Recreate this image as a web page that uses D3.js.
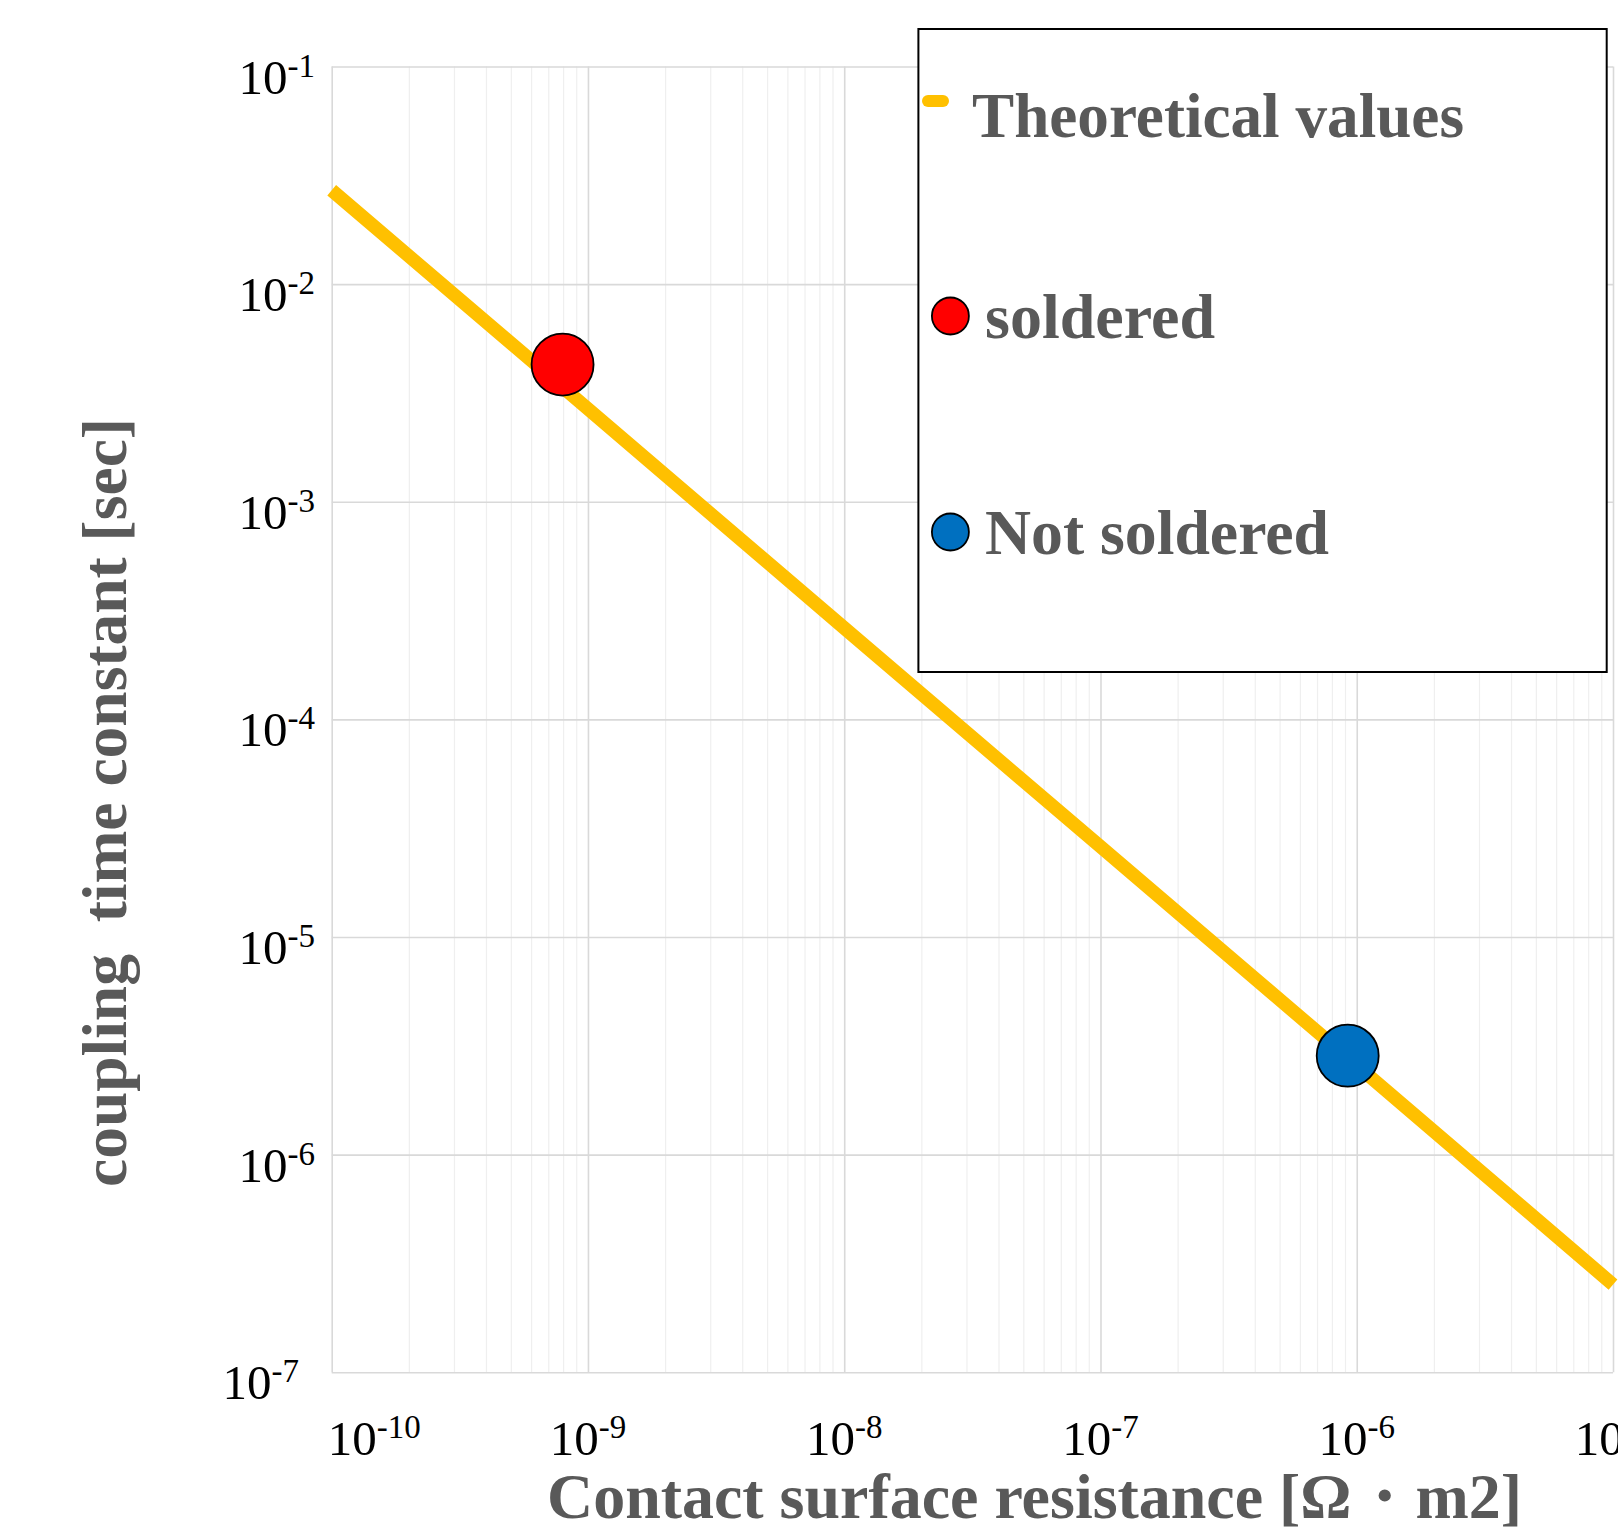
<!DOCTYPE html>
<html>
<head>
<meta charset="utf-8">
<title>coupling time constant</title>
<script src="https://d3js.org/d3.v7.min.js"></script>
<style>
  body { margin: 0; background: #fff; }
  text { font-family: "Liberation Serif", "Times New Roman", serif; }
</style>
</head>
<body>
<script>
// ---- data ----
var xTicks = [1e-10, 1e-9, 1e-8, 1e-7, 1e-6, 1e-5]
var yTicks = [1e-7, 1e-6, 1e-5, 1e-4, 1e-3, 1e-2, 1e-1]
var xTickExp = ["-10", "-9", "-8", "-7", "-6", "-5"]
var yTickExp = ["-7", "-6", "-5", "-4", "-3", "-2", "-1"]

// theoretical line (straight on log-log)
var theoryR = [1e-10, 1e-9, 1e-8, 1e-7, 1e-6, 1e-5]
var theoryTau = [2.7e-2, 2.67e-3, 2.63e-4, 2.6e-5, 2.57e-6, 2.53e-7]

// measured points
var pointNames = ["soldered", "Not soldered"]
var pointR = [7.96e-10, 9.22e-7]
var pointTau = [4.27e-3, 2.85e-6]
var pointColors = ["#ff0000", "#0070c0"]

var legendNames = ["Theoretical values", "soldered", "Not soldered"]

var W = 1618, H = 1527
// plot area (note: "top" is reserved on window, so use m* names)
var mLeft = 331.7, mRight = 1613, mTop = 66.5, mBottom = 1372.3
var textGrey = "#595959"

var svg = d3.select("body").append("svg")
  .attr("width", W)
  .attr("height", H)

svg.append("rect").attr("width", W).attr("height", H).attr("fill", "#fff")

var x = d3.scaleLog().domain([1e-10, 1e-5]).range([mLeft, mRight])
var y = d3.scaleLog().domain([1e-7, 1e-1]).range([mBottom, mTop])

// minor vertical gridlines
var minor = x.ticks().filter(function(d) {
  return xTicks.indexOf(d) < 0
})
svg.append("g")
  .attr("transform", "translate(0," + mBottom + ")")
  .call(d3.axisBottom(x).tickValues(minor).tickSize(-(mBottom - mTop)).tickFormat(""))
  .call(function(g) {
    g.select(".domain").remove()
    g.selectAll("line").attr("stroke", "#efefef").attr("stroke-width", 1.2)
  })

// major gridlines
svg.append("g")
  .attr("transform", "translate(0," + mBottom + ")")
  .call(d3.axisBottom(x).tickValues(xTicks).tickSize(-(mBottom - mTop)).tickFormat(""))
  .call(function(g) {
    g.select(".domain").remove()
    g.selectAll("line").attr("stroke", "#d9d9d9").attr("stroke-width", 1.6)
  })
svg.append("g")
  .attr("transform", "translate(" + mLeft + ",0)")
  .call(d3.axisLeft(y).tickValues(yTicks).tickSize(-(mRight - mLeft)).tickFormat(""))
  .call(function(g) {
    g.select(".domain").remove()
    g.selectAll("line").attr("stroke", "#d9d9d9").attr("stroke-width", 1.6)
  })

// tick labels 10^n
function powLabel(sel, anchor) {
  sel.attr("text-anchor", anchor)
    .attr("font-size", 49)
    .attr("fill", "#000")
  sel.append("tspan").text("10")
  sel.append("tspan").attr("font-size", 33).attr("dy", -17).text(function(d) { return d.exp })
}

var xl = svg.append("g").selectAll("text")
  .data(xTicks.map(function(d, i) { return {v: d, exp: xTickExp[i]} }))
  .join("text")
  .attr("x", function(d, i) { return i == 0 ? mLeft - 4 : x(d.v) })
  .attr("y", 1455)
xl.each(function(d, i) {
  powLabel(d3.select(this), i == 0 ? "start" : "middle")
})

var yl = svg.append("g").selectAll("text")
  .data(yTicks.map(function(d, i) { return {v: d, exp: yTickExp[i]} }))
  .join("text")
  .attr("x", function(d, i) { return i == 0 ? 299 : 315 })
  .attr("y", function(d) { return y(d.v) + 27 })
yl.each(function() { powLabel(d3.select(this), "end") })

// theoretical line
var line = d3.line()
  .x(function(d) { return x(d[0]) })
  .y(function(d) { return y(d[1]) })
svg.append("path")
  .datum(d3.zip(theoryR, theoryTau))
  .attr("d", line)
  .attr("fill", "none")
  .attr("stroke", "#ffc000")
  .attr("stroke-width", 13.5)

// measured points
svg.append("g").selectAll("circle")
  .data(d3.range(pointR.length))
  .join("circle")
  .attr("cx", function(i) { return x(pointR[i]) })
  .attr("cy", function(i) { return y(pointTau[i]) })
  .attr("r", 31)
  .attr("fill", function(i) { return pointColors[i] })
  .attr("stroke", "#000")
  .attr("stroke-width", 1.8)

// axis titles
svg.append("text")
  .attr("x", 547).attr("y", 1518)
  .attr("font-size", 64).attr("font-weight", "bold").attr("fill", textGrey)
  .attr("textLength", 975).attr("lengthAdjust", "spacingAndGlyphs")
  .text("Contact surface resistance [Ω・m2]")

svg.append("text")
  .attr("transform", "translate(126,1187) rotate(-90)")
  .attr("font-size", 64).attr("font-weight", "bold").attr("fill", textGrey)
  .attr("textLength", 769).attr("lengthAdjust", "spacingAndGlyphs")
  .style("white-space", "pre")
  .text("coupling  time constant [sec]")

// legend
var lg = svg.append("g")
lg.append("rect")
  .attr("x", 918.4).attr("y", 29)
  .attr("width", 688.3).attr("height", 643)
  .attr("fill", "#fff").attr("stroke", "#000").attr("stroke-width", 2)

lg.append("line")
  .attr("x1", 928).attr("x2", 943).attr("y1", 101).attr("y2", 101)
  .attr("stroke", "#ffc000").attr("stroke-width", 12).attr("stroke-linecap", "round")

var legY = [137, 338, 554]
var legX = [972, 985, 985]
var legLen = [492, 230, 344]
lg.selectAll("circle.leg")
  .data([0, 1])
  .join("circle")
  .attr("class", "leg")
  .attr("cx", 950.4)
  .attr("cy", function(i) { return legY[i + 1] - 22 })
  .attr("r", 18.5)
  .attr("fill", function(i) { return pointColors[i] })
  .attr("stroke", "#000").attr("stroke-width", 1.8)

lg.selectAll("text")
  .data(legendNames)
  .join("text")
  .attr("x", function(d, i) { return legX[i] })
  .attr("y", function(d, i) { return legY[i] })
  .attr("font-size", 64).attr("font-weight", "bold").attr("fill", textGrey)
  .attr("textLength", function(d, i) { return legLen[i] })
  .attr("lengthAdjust", "spacingAndGlyphs")
  .style("white-space", "pre")
  .text(function(d) { return d })
</script>
</body>
</html>
